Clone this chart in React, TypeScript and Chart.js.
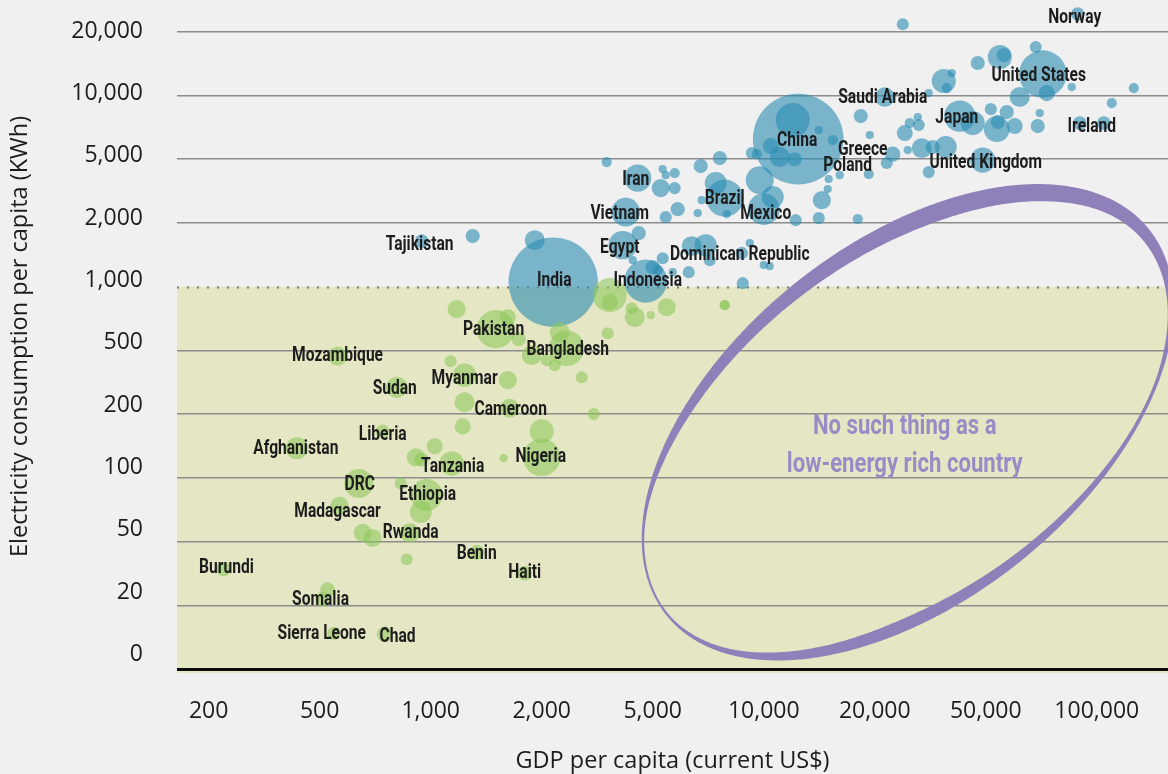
import React, { useEffect, useRef } from 'react';
import { Chart, LinearScale, registerables } from 'chart.js';

// ---------------- data ----------------
const countries = [
  '', 'Norway', '', '', '', '', '', '', '', 'United States',
  '', '', '', '', 'Saudi Arabia', '', '', '', 'Japan', '',
  '', '', '', '', '', '', '', 'Ireland', '', '',
  '', '', '', '', '', '', '', '', '', 'Greece',
  '', 'United Kingdom', '', 'China', '', '', '', '', '', '',
  '', '', '', 'Brazil', '', '', 'Mexico', '', '', '',
  '', '', '', '', '', '', 'Iran', '', '', '',
  '', '', '', 'Vietnam', '', 'Tajikistan', '', '', 'India', 'Egypt',
  '', '', '', 'Indonesia', '', '', '', '', '', '',
  '', 'Dominican Republic', '', '', '', '', '', '', 'Poland', '',
  '', '', '', 'Pakistan', '', '', '', 'Bangladesh', '', '',
  '', '', '', '', '', '', '', '', '', 'Myanmar',
  '', '', '', 'Cameroon', '', '', 'Nigeria', '', '', '',
  '', 'Tanzania', '', 'Ethiopia', '', 'Rwanda', '', 'Benin', 'Haiti', 'Mozambique',
  'Sudan', 'Liberia', 'Afghanistan', 'DRC', '', 'Madagascar', '', '', 'Burundi', '',
  'Somalia', 'Sierra Leone', 'Chad',
];

// GDP per capita (current US$)
const gdpPerCapita = [
  25200, 88800, 68300, 54600, 55950, 46800, 37770, 35360, 36230, 71400,
  61800, 73200, 85550, 126000, 21720, 31230, 109800, 18330, 40350, 44900,
  53570, 53900, 57000, 51600, 59900, 70000, 69170, 89930, 104500, 28520,
  26700, 28760, 25620, 19390, 15390, 29480, 32290, 35940, 26260, 23200,
  22090, 48780, 31230, 12400, 11980, 14100, 10450, 11050, 12130, 9575,
  9280, 9755, 10580, 7840, 7410, 7940, 10000, 12210, 14370, 14100,
  6747, 7600, 6622, 6788, 5844, 5424, 4418, 5320, 5735, 5424,
  5255, 5735, 3420, 4001, 4455, 945, 1300, 1915, 2199, 3904,
  4240, 5320, 6260, 4719, 5000, 5158, 5664, 6378, 6960, 7140,
  9165, 8717, 10000, 10380, 8770, 17990, 14910, 15000, 16070, 19260,
  3506, 3506, 1176, 1500, 1618, 1733, 2320, 2458, 1879, 2084,
  2227, 1133, 3449, 4205, 4310, 4918, 5456, 7840, 7840, 1236,
  1618, 2782, 1236, 1638, 1221, 2000, 2000, 3071, 1025, 911,
  945, 1140, 1578, 975, 940, 877, 861, 1333, 1799, 559,
  809, 741, 414, 638, 829, 566, 654, 696, 226, 525,
  509, 546, 750,
];

// Electricity consumption per capita (kWh)
const kwhPerCapita = [
  21700, 24250, 16930, 15190, 15520, 14230, 12760, 11700, 10840, 12620,
  9830, 10260, 10960, 10840, 9830, 10260, 9210, 7990, 7990, 7405,
  6940, 7485, 8345, 8620, 7170, 8260, 7170, 7405, 7405, 7905,
  7405, 7245, 6643, 6500, 6155, 5640, 5705, 5705, 5520, 5285,
  4728, 4936, 4153, 6225, 7650, 6862, 5767, 5115, 5000, 5285,
  5344, 3702, 2899, 2857, 3546, 2270, 2439, 2082, 2776, 2143,
  4527, 5060, 2303, 2776, 2439, 2174, 3809, 4337, 4094, 3977,
  3299, 3299, 4795, 2336, 1790, 1641, 1733, 1659, 1050, 1571,
  1334, 1363, 1171, 1062, 1236, 1197, 1171, 1554, 1571, 1334,
  1605, 1440, 1264, 1250, 1039, 2113, 3252, 3755, 3977, 4036,
  912, 845, 783, 630, 717, 565, 609, 512, 467, 434,
  404, 428, 603, 791, 717, 733, 800, 818, 818, 350,
  326, 340, 237, 218, 175, 166, 125, 200, 141, 125,
  122, 117, 124, 83, 69, 55, 38.8, 42.9, 31.7, 460,
  294, 166, 138, 94, 94, 74, 55, 52, 33.6, 25,
  21.8, 11.2, 10.9,
];

// Population (millions) -> bubble area
const populationMillions = [
  5, 8, 5, 57, 10, 10, 0.3, 57, 2, 320,
  33, 16, 0.3, 2, 31, 0.3, 2, 10, 115, 57,
  70, 10, 10, 5, 16, 0.3, 10, 9, 9, 0.3,
  2, 5, 16, 0.3, 2, 33, 10, 44, 0.3, 14,
  5, 65, 5, 1370, 143, 0.3, 16, 33, 10, 2,
  5, 86, 44, 180, 44, 0.3, 120, 5, 24, 5,
  10, 10, 0.3, 0.3, 10, 5, 79, 0.3, 2, 0.3,
  24, 5, 2, 92, 10, 8.5, 10, 33, 1330, 90,
  0.3, 5, 5, 255, 10, 2, 0.3, 33, 44, 5,
  0.3, 6, 0.3, 0.3, 5, 2, 0.3, 0.3, 0.3, 2,
  143, 16, 24, 190, 16, 10, 33, 160, 33, 5,
  5, 5, 5, 5, 33, 0.3, 24, 2, 2, 53,
  24, 5, 33, 28, 16, 57, 182, 5, 16, 24,
  10, 60, 0.3, 120, 44, 30, 5, 12, 11, 28,
  40, 8, 45, 95, 5, 24, 24, 24, 11, 12,
  11, 7, 14,
];

const xTickValues = [200, 500, 1000, 2000, 5000, 10000, 20000, 50000, 100000];
const yTickValues = [0, 20, 50, 100, 200, 500, 1000, 2000, 5000, 10000, 20000];
const xRange = [154, 156000];
const yRange = [-1.25, 28250];
const THRESHOLD_KWH = 1000;

const annotationLines = ['No such thing as a', 'low-energy rich country'];
const ellipseCentre = { gdp: 26260, kwh: 183 };

// ---------------- styling ----------------
const BLUE = 'rgba(42,140,179,0.6)';
const GREEN = 'rgba(142,198,90,0.58)';
const PAGE_BG = '#f0f0f0';
const LOW_BG = '#e5e7c4';
const GRID = '#8c8c8c';
const TEXT = '#1d1d1d';
const PURPLE = '#8f80b9';
const PURPLE_TEXT = '#9a8bc6';
const AXIS_FONT = '"Open Sans", "Noto Sans", sans-serif';
const LABEL_FONT = 'bold 20px Roboto, "Noto Sans", sans-serif';

// ellipse outline (pixels) and varying band thickness around it
const ELLIPSE = { rx: 309, ry: 179, rot: -0.674 };
const BAND_DEG = [-160, -140, -115, -90, -60, -45, -25, 0, 30, 60, 90, 120, 150, 180];
const BAND_PX = [5, 9, 13, 9, 4, 3, 6, 12, 17, 18, 14, 9.5, 2.5, 2];

const LABEL_NUDGE: Record<string, [number, number]> = {
  Norway: [-3, 4], 'United States': [-4, 2], 'Saudi Arabia': [-2, 1], Japan: [-3, 2],
  Ireland: [12, 4], Greece: [-30, -4], Poland: [8, -9], 'United Kingdom': [3, 3],
  China: [-1, 2], Iran: [-2, 2], Brazil: [0, 1], Mexico: [2, 5], Vietnam: [-6, 2],
  Egypt: [-3, 3], 'Dominican Republic': [-2, 2], Tajikistan: [-2, 4], India: [1, -1],
  Indonesia: [2, 0], Pakistan: [-2, 1], Bangladesh: [1, 2], Mozambique: [0, 0],
  Sudan: [-2, 2], Myanmar: [0, 4], Cameroon: [1, 2], Liberia: [0, 4],
  Afghanistan: [-1, 1], Tanzania: [1, 4], Nigeria: [-1, 0], DRC: [1, 1],
  Ethiopia: [1, 0], Madagascar: [-2, 6], Rwanda: [1, 0], Benin: [0, 2], Haiti: [0, 0],
  Burundi: [3, -1], Somalia: [-2, 1], 'Sierra Leone': [-12, 1], Chad: [13, 3],
};

// y tick labels sit slightly above their grid lines, more so towards the bottom
const yLabelLift = (i: number) => 0.7 + 1.4 * (yTickValues.length - 1 - i);

// ---------------- custom stepped scale ----------------
const BREAKS: Record<string, number[]> = { x: xTickValues, y: yTickValues };

function toIndex(breaks: number[], v: number): number {
  let i = 0;
  for (let k = 0; k < breaks.length - 1; k++) if (v >= breaks[k]) i = k;
  const lo = breaks[i];
  const hi = breaks[i + 1];
  if (lo <= 0) return i + (v - lo) / (hi - lo);
  return i + Math.log(v / lo) / Math.log(hi / lo);
}

function fromIndex(breaks: number[], idx: number): number {
  const i = Math.min(Math.max(Math.floor(idx), 0), breaks.length - 2);
  const f = idx - i;
  const lo = breaks[i];
  const hi = breaks[i + 1];
  if (lo <= 0) return lo + f * (hi - lo);
  return lo * Math.pow(hi / lo, f);
}

class SteppedScale extends LinearScale {
  static id = 'stepped';
  static defaults = {};
  _i0: number = 0;
  _i1: number = 1;
  determineDataLimits() {
    const o: any = this.options;
    (this as any).min = o.min;
    (this as any).max = o.max;
  }
  buildTicks() {
    return BREAKS[(this as any).id].map((value: number) => ({ value }));
  }
  configure() {
    super.configure();
    const b = BREAKS[(this as any).id];
    this._i0 = toIndex(b, (this as any).min);
    this._i1 = toIndex(b, (this as any).max);
  }
  getPixelForValue(value: number) {
    const b = BREAKS[(this as any).id];
    return this.getPixelForDecimal((toIndex(b, value) - this._i0) / (this._i1 - this._i0));
  }
  getValueForPixel(pixel: number) {
    const b = BREAKS[(this as any).id];
    return fromIndex(b, this._i0 + this.getDecimalForPixel(pixel) * (this._i1 - this._i0));
  }
}

Chart.register(...registerables, SteppedScale as any);

function drawCondensed(ctx: CanvasRenderingContext2D, text: string, x: number, y: number, sx: number) {
  ctx.save();
  ctx.translate(x, y);
  ctx.scale(sx, 1);
  ctx.fillText(text, 0, 0);
  ctx.restore();
}

function bandAt(deg: number): number {
  let d = deg;
  while (d <= -180) d += 360;
  while (d > 180) d -= 360;
  const n = BAND_DEG.length;
  for (let k = 0; k < n; k++) {
    const a0 = k === 0 ? BAND_DEG[n - 1] - 360 : BAND_DEG[k - 1];
    const t0 = k === 0 ? BAND_PX[n - 1] : BAND_PX[k - 1];
    const a1 = BAND_DEG[k];
    const t1 = BAND_PX[k];
    if (d >= a0 && d <= a1) return t0 + ((d - a0) / (a1 - a0)) * (t1 - t0);
  }
  const a0 = BAND_DEG[n - 1];
  const a1 = BAND_DEG[0] + 360;
  return BAND_PX[n - 1] + ((d - a0) / (a1 - a0)) * (BAND_PX[0] - BAND_PX[n - 1]);
}

function crescentPath(cx: number, cy: number): Path2D {
  const N = 720;
  const { rx: a, ry: b, rot } = ELLIPSE;
  const U = [Math.cos(rot), Math.sin(rot)];
  const W = [Math.sin(rot), -Math.cos(rot)];
  let thick: number[] = [];
  for (let k = 0; k < N; k++) thick.push(bandAt((k / N) * 360 - 180));
  for (let pass = 0; pass < 3; pass++) {
    const sm: number[] = [];
    for (let k = 0; k < N; k++) {
      let s = 0;
      for (let j = -10; j <= 10; j++) s += thick[(k + j + N) % N];
      sm.push(s / 21);
    }
    thick = sm;
  }
  const outer: number[][] = [];
  const inner: number[][] = [];
  for (let k = 0; k < N; k++) {
    const phi = ((k / N) * 360 - 180) * (Math.PI / 180);
    const c = Math.cos(phi);
    const s = Math.sin(phi);
    const px = cx + a * c * U[0] + b * s * W[0];
    const py = cy + a * c * U[1] + b * s * W[1];
    let nx = (c / a) * U[0] + (s / b) * W[0];
    let ny = (c / a) * U[1] + (s / b) * W[1];
    const len = Math.hypot(nx, ny);
    nx /= len;
    ny /= len;
    outer.push([px, py]);
    inner.push([px - thick[k] * nx, py - thick[k] * ny]);
  }
  const p = new Path2D();
  outer.forEach(([x, y], k) => (k ? p.lineTo(x, y) : p.moveTo(x, y)));
  p.closePath();
  inner.forEach(([x, y], k) => (k ? p.lineTo(x, y) : p.moveTo(x, y)));
  p.closePath();
  return p;
}

const overlayPlugin = {
  id: 'overlay',
  beforeDraw(chart: any) {
    const { ctx, chartArea, scales } = chart;
    ctx.save();
    ctx.fillStyle = PAGE_BG;
    ctx.fillRect(0, 0, chart.width, chart.height);
    const yTop = scales.y.getPixelForValue(THRESHOLD_KWH);
    ctx.fillStyle = LOW_BG;
    ctx.fillRect(chartArea.left, yTop, chartArea.right - chartArea.left, chartArea.bottom - yTop);
    ctx.restore();
  },
  beforeDatasetsDraw(chart: any) {
    const { ctx, chartArea, scales } = chart;
    const y = Math.round(scales.y.getPixelForValue(THRESHOLD_KWH)) + 0.5;
    ctx.save();
    ctx.strokeStyle = '#7a7a7a';
    ctx.lineWidth = 2;
    ctx.setLineDash([2, 8]);
    ctx.beginPath();
    ctx.moveTo(chartArea.left, y);
    ctx.lineTo(chartArea.right, y);
    ctx.stroke();
    ctx.restore();
  },
  afterDatasetsDraw(chart: any) {
    const { ctx, scales } = chart;
    const cx = scales.x.getPixelForValue(ellipseCentre.gdp);
    const cy = scales.y.getPixelForValue(ellipseCentre.kwh);
    ctx.save();
    ctx.fillStyle = PURPLE;
    ctx.fill(crescentPath(cx, cy), 'evenodd');

    ctx.fillStyle = PURPLE_TEXT;
    ctx.font = 'bold 28px Roboto, "Noto Sans", sans-serif';
    ctx.textAlign = 'center';
    ctx.textBaseline = 'alphabetic';
    annotationLines.forEach((t, i) => drawCondensed(ctx, t, cx - 3, cy + 12 + i * 38, 0.79));

    const meta = chart.getDatasetMeta(0);
    ctx.font = LABEL_FONT;
    ctx.fillStyle = TEXT;
    ctx.textBaseline = 'middle';
    countries.forEach((name, i) => {
      if (!name) return;
      const el = meta.data[i];
      const [dx, dy] = LABEL_NUDGE[name] || [0, 0];
      drawCondensed(ctx, name, el.x + dx, el.y + dy, 0.78);
    });
    ctx.restore();
  },
};

export default function App() {
  const ref = useRef<HTMLCanvasElement | null>(null);

  useEffect(() => {
    document.body.style.margin = '0';
    const canvas = ref.current;
    if (!canvas) return;
    const points = countries.map((_, i) => ({
      x: gdpPerCapita[i],
      y: kwhPerCapita[i],
      r: 3.5 + 1.13 * Math.sqrt(populationMillions[i]),
    }));
    const chart = new Chart(canvas, {
      type: 'bubble',
      data: {
        datasets: [
          {
            data: points,
            backgroundColor: (c: any) => (c.raw && c.raw.y >= THRESHOLD_KWH ? BLUE : GREEN),
            borderWidth: 0,
            hoverRadius: 0,
          } as any,
        ],
      },
      options: {
        responsive: false,
        animation: false,
        events: [],
        layout: { padding: 0, autoPadding: false },
        plugins: { legend: { display: false }, tooltip: { enabled: false } },
        scales: {
          x: {
            type: 'stepped',
            position: 'bottom',
            min: xRange[0],
            max: xRange[1],
            grid: { display: false, drawTicks: false },
            border: { display: false },
            ticks: {
              autoSkip: false,
              maxRotation: 0,
              minRotation: 0,
              padding: 25,
              font: { family: AXIS_FONT, size: 23 },
              color: TEXT,
              callback: (v: any) => Number(v).toLocaleString('en-US'),
            },
            title: {
              display: true,
              text: 'GDP per capita (current US$)',
              font: { family: AXIS_FONT, size: 23.5, lineHeight: 1.04 },
              color: TEXT,
              padding: { top: 0, bottom: 0 },
            },
            afterFit: (s: any) => {
              s.height = 101;
              s.paddingLeft = 0;
              s.paddingRight = 0;
            },
          } as any,
          y: {
            type: 'stepped',
            position: 'left',
            min: yRange[0],
            max: yRange[1],
            grid: {
              drawTicks: false,
              color: (c: any) =>
                c.tick && c.tick.value === THRESHOLD_KWH
                  ? 'rgba(0,0,0,0)'
                  : c.tick && c.tick.value === 0
                  ? '#0a0a0a'
                  : GRID,
              lineWidth: (c: any) => (c.tick && c.tick.value === 0 ? 3 : 1.5),
            },
            border: { display: false },
            ticks: {
              autoSkip: false,
              padding: 34,
              font: (c: any) => ({
                family: AXIS_FONT,
                size: 23,
                lineHeight: `${(2 * yLabelLift(c.index || 0)).toFixed(2)}px`,
              }),
              color: TEXT,
              callback: (v: any) => [Number(v).toLocaleString('en-US'), ''],
            },
            title: {
              display: true,
              text: 'Electricity consumption per capita (KWh)',
              font: { family: AXIS_FONT, size: 23.5 },
              color: TEXT,
              padding: { top: 6, bottom: 0 },
            },
            afterFit: (s: any) => {
              s.width = 177;
              s.paddingTop = 0;
              s.paddingBottom = 0;
            },
          } as any,
        },
      } as any,
      plugins: [overlayPlugin as any],
    });
    return () => chart.destroy();
  }, []);

  return (
    <div style={{ position: 'absolute', left: 0, top: 0, width: 1168, height: 774, background: PAGE_BG }}>
      <canvas ref={ref} width={1168} height={774} style={{ display: 'block' }} />
    </div>
  );
}
